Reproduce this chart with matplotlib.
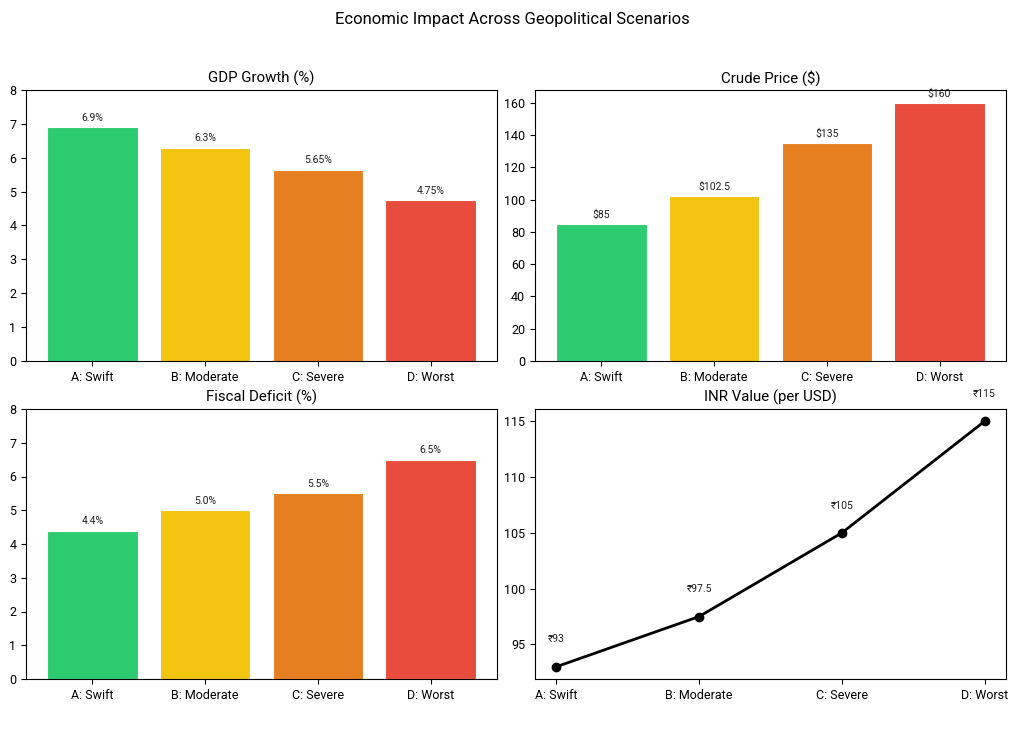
import matplotlib
matplotlib.use("Agg")
import matplotlib.pyplot as plt
import numpy as np

plt.rcParams['font.family'] = ['Roboto', 'DejaVu Sans']

scenarios = ["A: Swift", "B: Moderate", "C: Severe", "D: Worst"]
gdp_growth = [6.9, 6.3, 5.65, 4.75]
crude_price = [85, 102.5, 135, 160]
fiscal_deficit = [4.4, 5.0, 5.5, 6.5]
inr_value = [93, 97.5, 105, 115]

gdp_labels = ["6.9%", "6.3%", "5.65%", "4.75%"]
crude_labels = ["$85", "$102.5", "$135", "$160"]
fiscal_labels = ["4.4%", "5.0%", "5.5%", "6.5%"]
inr_labels = ["₹93", "₹97.5", "₹105", "₹115"]

colors = ["#2ecc71", "#f1c40f", "#e67e22", "#e74c3c"]

fig = plt.figure(figsize=(10.24, 7.31), dpi=100)
W, H = 1024, 731
def axes_px(l, r, t, b):
    return fig.add_axes([l / W, 1 - b / H, (r - l) / W, (b - t) / H])

ax1 = axes_px(26, 497, 90, 361)
ax2 = axes_px(535, 1006, 90, 361)
ax3 = axes_px(26, 497, 409, 679)
ax4 = axes_px(535, 1006, 409, 679)

x = np.arange(len(scenarios))

def bar_panel(ax, vals, labels, title, ylim=None):
    bars = ax.bar(x, vals, color=colors, width=0.8, edgecolor="white", linewidth=0.8)
    ax.bar_label(bars, labels=labels, padding=3, fontsize=7.5, color="#222222")
    ax.set_xticks(x)
    ax.set_xticklabels(scenarios)
    ax.set_title(title, fontsize=10.8, pad=5)
    ax.tick_params(labelsize=9)
    if ylim is not None:
        ax.set_ylim(*ylim)

bar_panel(ax1, gdp_growth, gdp_labels, "GDP Growth (%)", (0, 8))
bar_panel(ax2, crude_price, crude_labels, "Crude Price ($)")
bar_panel(ax3, fiscal_deficit, fiscal_labels, "Fiscal Deficit (%)", (0, 8))

ax4.plot(x, inr_value, color="black", marker="o", linewidth=2, markersize=6)
for xi, v, lab in zip(x, inr_value, inr_labels):
    ax4.text(xi, v + 2, lab, ha="center", va="bottom", fontsize=7.5, color="#222222")
ax4.set_xticks(x)
ax4.set_xticklabels(scenarios)
ax4.set_yticks([95, 100, 105, 110, 115])
ax4.tick_params(labelsize=9)
ax4.set_title("INR Value (per USD)", fontsize=10.8, pad=5)

fig.suptitle("Economic Impact Across Geopolitical Scenarios", fontsize=12, y=0.983)

fig.savefig("out.png", dpi=100)
